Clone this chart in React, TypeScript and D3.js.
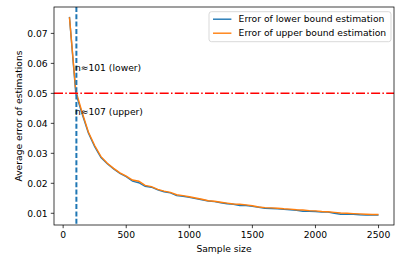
import React from "react";
import * as d3 from "d3";

// sample sizes used for the simulation
const sampleSizes = [
  50, 100, 150, 200, 250, 300, 350, 400, 450, 500,
  550, 600, 650, 700, 750, 800, 850, 900, 950, 1000,
  1050, 1100, 1150, 1200, 1250, 1300, 1350, 1400, 1450, 1500,
  1550, 1600, 1650, 1700, 1750, 1800, 1850, 1900, 1950, 2000,
  2050, 2100, 2150, 2200, 2250, 2300, 2350, 2400, 2450, 2500,
];

const lowerError = [
  0.0755, 0.0501, 0.0432, 0.0368, 0.0322, 0.0286, 0.0265, 0.0248, 0.0233, 0.0222,
  0.0207, 0.0202, 0.019, 0.0187, 0.0178, 0.0172, 0.0168, 0.0159, 0.0157, 0.0153,
  0.0149, 0.0145, 0.0141, 0.0139, 0.0135, 0.0132, 0.013, 0.0126, 0.0126, 0.0123,
  0.012, 0.0117, 0.0116, 0.0115, 0.0113, 0.0112, 0.011, 0.0107, 0.0107, 0.0106,
  0.0104, 0.0104, 0.01, 0.0097, 0.0097, 0.0097, 0.0095, 0.0094, 0.0094, 0.0094,
];

const upperError = [
  0.0754, 0.051, 0.0437, 0.0371, 0.0326, 0.0289, 0.0267, 0.025, 0.0235, 0.0224,
  0.0211, 0.0207, 0.0193, 0.0189, 0.018, 0.0174, 0.017, 0.0162, 0.0159, 0.0155,
  0.0151, 0.0147, 0.0142, 0.014, 0.0137, 0.0134, 0.0131, 0.013, 0.0128, 0.0125,
  0.0121, 0.0119, 0.0118, 0.0117, 0.0115, 0.0114, 0.0112, 0.0111, 0.0109, 0.0108,
  0.0106, 0.0105, 0.0103, 0.0101, 0.01, 0.0099, 0.0098, 0.0097, 0.0096, 0.0096,
];

const xTicks = [0, 500, 1000, 1500, 2000, 2500];
const yTicks = [0.01, 0.02, 0.03, 0.04, 0.05, 0.06, 0.07];

const threshold = 0.05;
const nLower = 101;
const nUpper = 107;

const seriesNames = ["Error of lower bound estimation", "Error of upper bound estimation"];
const colors = ["#1f77b4", "#ff7f0e"];

const W = 420;
const H = 266;
const margin = { left: 54, right: 26, top: 7, bottom: 41 };
const font = "'DejaVu Sans', sans-serif";
const fs = 9.2;

const App = () => {
  const iw = W - margin.left - margin.right;
  const ih = H - margin.top - margin.bottom;

  // matplotlib-style 5% padding
  const xExt = d3.extent(sampleSizes) as [number, number];
  const xPad = (xExt[1] - xExt[0]) * 0.05;
  const allY = lowerError.concat(upperError);
  const yExt = d3.extent(allY) as [number, number];
  const yPad = (yExt[1] - yExt[0]) * 0.05;

  const x = d3.scaleLinear().domain([xExt[0] - xPad, xExt[1] + xPad]).range([0, iw]);
  const y = d3.scaleLinear().domain([yExt[0] - yPad, yExt[1] + yPad]).range([ih, 0]);

  const line = d3
    .line<number>()
    .x((_, i) => x(sampleSizes[i]))
    .y((d) => y(d));

  const series = [lowerError, upperError];

  return (
    <svg width={W} height={H} style={{ position: "absolute", left: 0, top: 0 }} fontFamily={font}>
      <rect width={W} height={H} fill="#fff" />
      <g transform={`translate(${margin.left},${margin.top})`}>
        <defs>
          <clipPath id="plot">
            <rect width={iw} height={ih} />
          </clipPath>
        </defs>

        <g clipPath="url(#plot)">
          {series.map((s, i) => (
            <path key={i} d={line(s) || ""} fill="none" stroke={colors[i]} strokeWidth={1.4} />
          ))}
          {/* threshold */}
          <line x1={0} x2={iw} y1={y(threshold)} y2={y(threshold)} stroke="#ff0000" strokeWidth={1.5} strokeDasharray="9,2.3,1.5,2.3" />
          {/* required sample size */}
          <line x1={x(nLower) + 0.5} x2={x(nLower) + 0.5} y1={0} y2={ih} stroke="#1f77b4" strokeWidth={2} strokeDasharray="5,2.3" />
        </g>

        <text x={x(nLower) - 1} y={y(0.0575)} fontSize={fs} fill="#000">n≈{nLower} (lower)</text>
        <text x={x(nLower) - 1} y={y(0.0427)} fontSize={fs} fill="#000">n≈{nUpper} (upper)</text>

        {/* spines */}
        <rect width={iw} height={ih} fill="none" stroke="#000" strokeWidth={0.75} />

        {/* x axis */}
        {xTicks.map((t) => (
          <g key={t} transform={`translate(${x(t)},${ih})`}>
            <line y2={3.2} stroke="#000" strokeWidth={0.75} />
            <text y={13.2} textAnchor="middle" fontSize={fs} fill="#000">{t}</text>
          </g>
        ))}
        <text x={iw / 2} y={ih + 27} textAnchor="middle" fontSize={fs} fill="#000">Sample size</text>

        {/* y axis */}
        {yTicks.map((t) => (
          <g key={t} transform={`translate(0,${y(t)})`}>
            <line x2={-3.2} stroke="#000" strokeWidth={0.75} />
            <text x={-6.4} dy="0.35em" textAnchor="end" fontSize={fs} fill="#000">{d3.format(".2f")(t)}</text>
          </g>
        ))}
        <text transform={`translate(${-32},${ih / 2}) rotate(-90)`} textAnchor="middle" fontSize={fs} fill="#000">
          Average error of estimations
        </text>

        {/* legend */}
        <g transform={`translate(${155},${4.7})`}>
          <rect width={182} height={30} rx={2.5} fill="#fff" fillOpacity={0.8} stroke="#ccc" strokeWidth={0.75} />
          {seriesNames.map((name, i) => (
            <g key={name} transform={`translate(0,${7.5 + i * 14})`}>
              <line x1={4} x2={22.4} stroke={colors[i]} strokeWidth={1.4} />
              <text x={29.6} dy="0.35em" fontSize={fs} fill="#000">{name}</text>
            </g>
          ))}
        </g>
      </g>
    </svg>
  );
};

export default App;
